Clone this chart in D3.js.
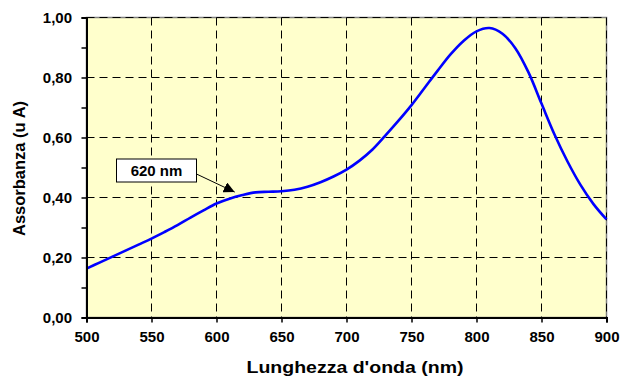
<!DOCTYPE html>
<html>
<head>
<meta charset="utf-8">
<script src="https://cdn.jsdelivr.net/npm/d3@7"></script>
<style>
  html, body { margin: 0; padding: 0; background: #ffffff; }
  svg { display: block; font-family: "Liberation Sans", Arial, sans-serif; }
</style>
</head>
<body>
<svg id="chart" width="620" height="376"></svg>
<script>
// ---- data ----
const wavelengths = [500,510,520,530,540,550,560,570,580,590,600,610,620,630,640,650,660,670,680,690,700,
                     710,720,730,740,750,760,770,780,790,800,810,820,830,840,850,860,870,880,890,900];
const absorbance  = [0.163,0.183,0.203,0.223,0.243,0.263,0.285,0.308,0.333,0.357,0.380,0.396,0.408,0.417,0.419,0.421,0.426,0.436,0.451,0.470,0.493,
                     0.523,0.560,0.607,0.656,0.708,0.765,0.822,0.877,0.922,0.954,0.965,0.946,0.897,0.817,0.713,0.610,0.520,0.442,0.378,0.327];
const xTicks = [500,550,600,650,700,750,800,850,900];
const yTicks = [0,0.2,0.4,0.6,0.8,1.0];
const yMinorTicks = [0.1,0.3,0.5,0.7,0.9];
const xTitle = "Lunghezza d'onda (nm)";
const yTitle = "Assorbanza (u A)";
const annotationLabel = "620 nm";
const annotationTarget = [614, 0.418];

// ---- layout ----
const svg = d3.select("#chart");
const L = 86.5, R = 606.5, T = 17.5, B = 317.5;
const x = d3.scaleLinear().domain([500, 900]).range([L, R]);
const y = d3.scaleLinear().domain([0, 1]).range([B, T]);
const fmt = d => d3.format(".2f")(d).replace(".", ",");

// plot background
svg.append("rect").attr("x", L).attr("y", T).attr("width", R - L).attr("height", B - T)
  .attr("fill", "#FFFFCC").attr("stroke", "#808080").attr("stroke-width", 1.5);

// gridlines
svg.append("g").selectAll("line").data(xTicks.slice(1)).join("line")
  .attr("x1", d => x(d)).attr("x2", d => x(d)).attr("y1", T).attr("y2", B)
  .attr("stroke", "#000").attr("stroke-width", 1).attr("stroke-dasharray", "8,5");
svg.append("g").selectAll("line").data(yTicks.slice(1)).join("line")
  .attr("x1", L).attr("x2", R).attr("y1", d => y(d)).attr("y2", d => y(d))
  .attr("stroke", "#000").attr("stroke-width", 1).attr("stroke-dasharray", "8,5");

// curve
const pts = wavelengths.map((w, i) => [w, absorbance[i]]);
svg.append("path").datum(pts)
  .attr("fill", "none").attr("stroke", "#0000FF").attr("stroke-width", 2.6)
  .attr("stroke-linejoin", "round")
  .attr("d", d3.line().x(d => x(d[0])).y(d => y(d[1])).curve(d3.curveCatmullRom.alpha(0.5)));

// y axis
const yAxis = svg.append("g").attr("transform", `translate(${L},0)`)
  .call(d3.axisLeft(y).tickValues(yTicks).tickFormat(fmt).tickSize(5).tickPadding(9));
svg.append("g").attr("transform", `translate(${L},0)`)
  .call(d3.axisLeft(y).tickValues(yMinorTicks).tickFormat("").tickSize(5))
  .call(g => g.select(".domain").remove());
// x axis
const xAxis = svg.append("g").attr("transform", `translate(0,${B})`)
  .call(d3.axisBottom(x).tickValues(xTicks).tickFormat(d3.format("d")).tickSize(5).tickPadding(8));

svg.selectAll(".domain").attr("stroke", "#000").attr("stroke-width", 2);
svg.selectAll(".tick line").attr("stroke", "#000").attr("stroke-width", 1.5);
svg.selectAll(".tick text").attr("font-family", "Liberation Sans, Arial, sans-serif")
  .attr("font-size", 15).attr("font-weight", "bold").attr("fill", "#000");
yAxis.selectAll(".tick text").attr("dx", "-0.5");
xAxis.selectAll(".tick text").attr("dy", "0.75em");

// titles
svg.append("text").attr("x", 355).attr("y", 373)
  .attr("text-anchor", "middle").attr("font-size", 16.5).attr("font-weight", "bold")
  .attr("textLength", 217).attr("lengthAdjust", "spacingAndGlyphs")
  .text(xTitle);
svg.append("text").attr("transform", "translate(24.5,168.5) rotate(-90)")
  .attr("text-anchor", "middle").attr("font-size", 16.5).attr("font-weight", "bold")
  .text(yTitle);

// annotation
svg.append("defs").append("marker").attr("id", "arrow")
  .attr("viewBox", "0 0 10 10").attr("refX", 10).attr("refY", 5)
  .attr("markerWidth", 11).attr("markerHeight", 11).attr("markerUnits", "userSpaceOnUse")
  .attr("orient", "auto")
  .append("path").attr("d", "M0,0 L10,5 L0,10 z").attr("fill", "#000");
const bx = 116.5, by = 159, bw = 80, bh = 23;
svg.append("line").attr("x1", bx + bw).attr("y1", 174)
  .attr("x2", x(annotationTarget[0])).attr("y2", y(annotationTarget[1]))
  .attr("stroke", "#000").attr("stroke-width", 1).attr("marker-end", "url(#arrow)");
svg.append("rect").attr("x", bx).attr("y", by).attr("width", bw).attr("height", bh)
  .attr("fill", "#fff").attr("stroke", "#000").attr("stroke-width", 1);
svg.append("text").attr("x", bx + bw / 2).attr("y", by + 17)
  .attr("text-anchor", "middle").attr("font-size", 15).attr("font-weight", "bold")
  .text(annotationLabel);
</script>
</body>
</html>
